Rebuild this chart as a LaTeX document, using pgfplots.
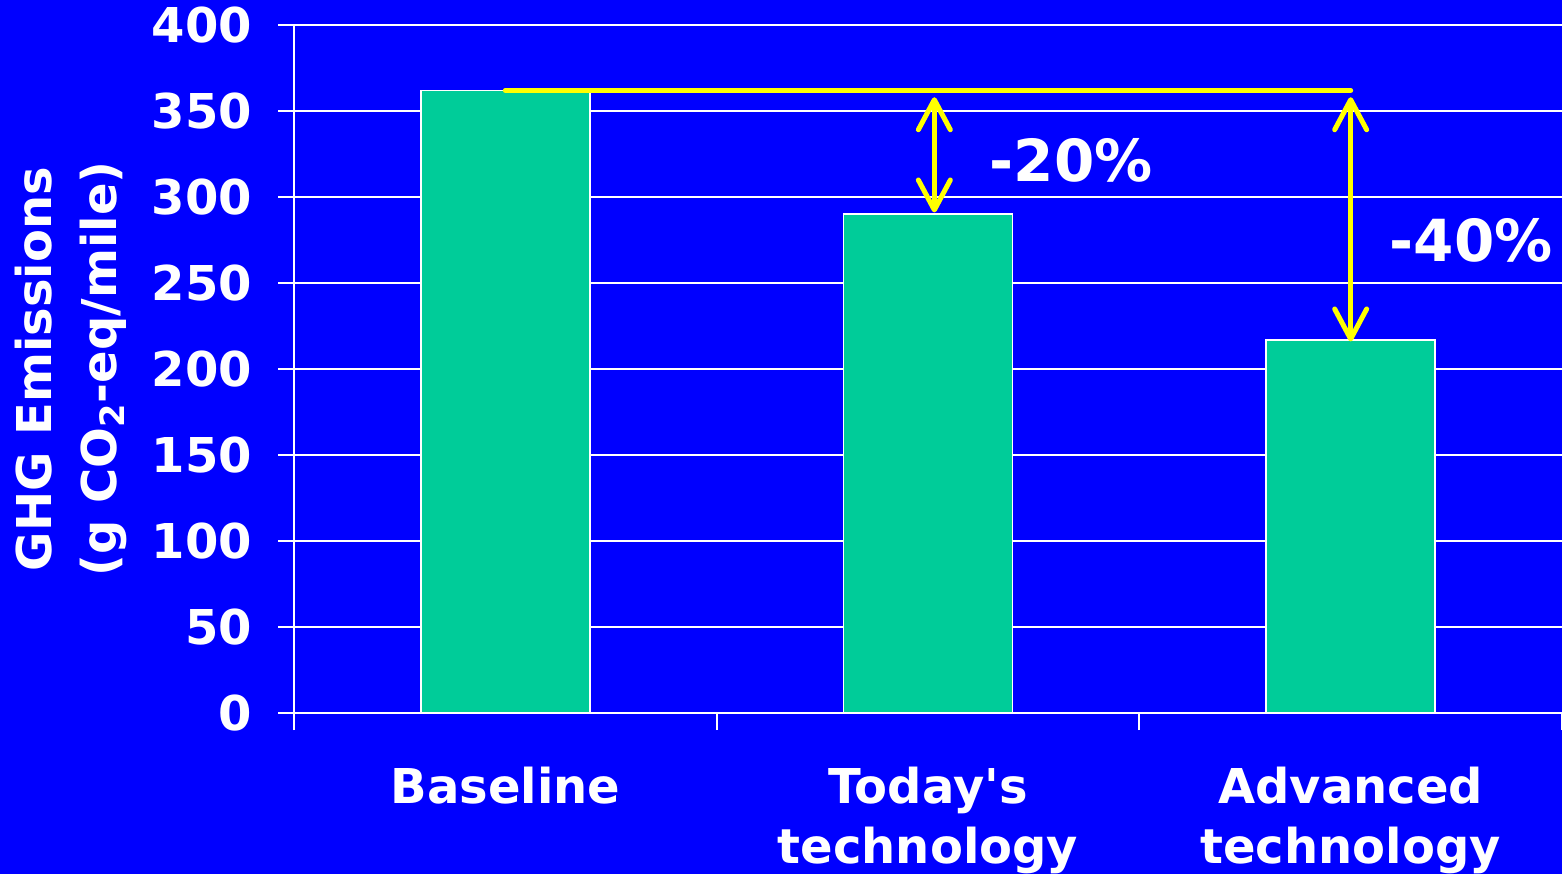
\documentclass[border=0pt]{standalone}
\usepackage{fontspec}
\setmainfont{DejaVu Sans}
\usepackage{pgfplots}
\pgfplotsset{compat=1.18}
\usetikzlibrary{arrows.meta}
\definecolor{bgblue}{HTML}{0000FF}
\definecolor{bargreen}{HTML}{00CC99}
\definecolor{arrowyellow}{HTML}{FFFF00}

\begin{document}
\begin{tikzpicture}
  % background of the whole slide
  \fill[bgblue] (0,0) rectangle (781pt,437pt);

  \begin{axis}[
    at={(147pt,80.5pt)}, anchor=south west,
    scale only axis, width=634pt, height=344pt,
    xmin=-0.5, xmax=2.5, ymin=0, ymax=400,
    clip=false,
    ytick={0,50,...,400},
    xtick={0,1,2},
    xticklabels={Baseline, Today\textquotesingle s\\technology, Advanced\\technology},
    minor xtick={-0.5,0.5,1.5,2.5},
    axis lines=left,
    axis line style={white, line width=1pt, -},
    ymajorgrids, grid style={white, line width=1pt},
    tick align=outside,
    major tick length=8pt, minor tick length=8.5pt,
    ytick style={white, line width=1pt},
    major x tick style={draw=none},
    minor x tick style={draw=white, line width=1pt},
    /pgf/number format/assume math mode=true,
    ticklabel style={font=\fontsize{24}{30}\selectfont\bfseries, text=white},
    yticklabel style={xshift=-9.5pt},
    xticklabel style={align=center, yshift=-15.5pt},
    ylabel={GHG Emissions\\(g CO\textsubscript{2}-eq/mile)},
    ylabel style={at={(axis description cs:-0.176,0.5)}, anchor=center,
      align=center, font=\fontsize{24}{32.5}\selectfont\bfseries, text=white},
  ]

    % bars
    \addplot[ybar, bar width=0.4, fill=bargreen, draw=white, line width=0.75pt]
      coordinates {(0,362) (1,290) (2,217)};

    % reference level of the baseline
    \addplot[arrowyellow, line width=2.5pt, line cap=round]
      coordinates {(0,362) (2,362)};

    % reduction arrows
    \addplot[arrowyellow, line width=2.5pt,
      {Straight Barb[length=15pt,width=16pt,round]}-{Straight Barb[length=15pt,width=16pt,round]}]
      coordinates {(1.015,358) (1.015,291)};
    \addplot[arrowyellow, line width=2.5pt,
      {Straight Barb[length=15pt,width=16pt,round]}-{Straight Barb[length=15pt,width=16pt,round]}]
      coordinates {(2.0,358) (2.0,216)};

    \node[font=\fontsize{29}{30}\selectfont\bfseries, text=white]
      at (axis cs:1.339,321.5) {-20\%};
    \node[font=\fontsize{29}{30}\selectfont\bfseries, text=white]
      at (axis cs:2.285,275) {-40\%};
  \end{axis}

  \pgfresetboundingbox
  \path[use as bounding box] (0,0) rectangle (781pt,437pt);
\end{tikzpicture}
\end{document}
